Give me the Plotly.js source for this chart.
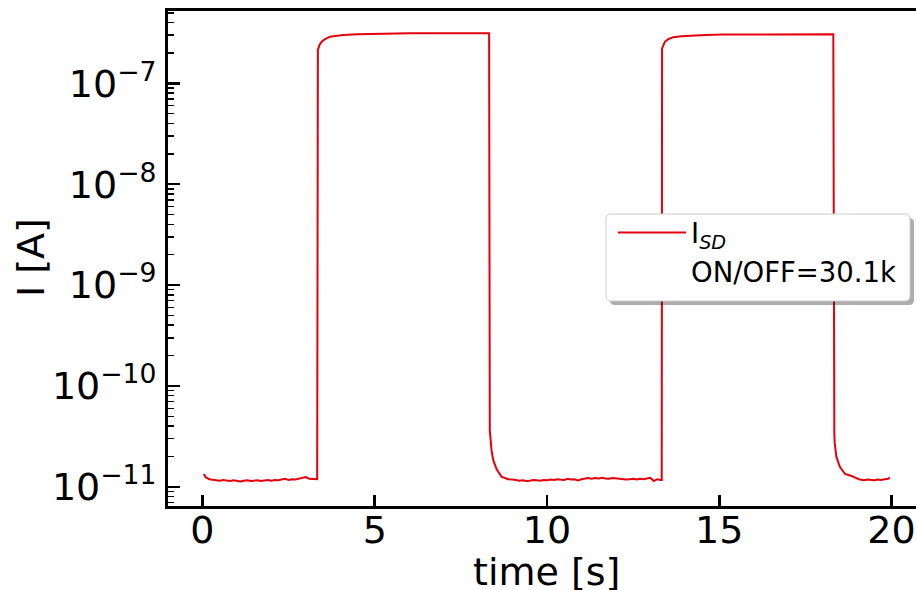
<!DOCTYPE html>
<html>
<head>
<meta charset="utf-8">
<script src="https://cdn.plot.ly/plotly-3.0.1.min.js"></script>
<style>
  html, body { margin: 0; padding: 0; background: #ffffff; }
  #chart { width: 916px; height: 590px; }
</style>
</head>
<body>
<div id="chart"></div>
<script>
// ---- data (time in s, current in A) ----
const timeS = [
  0.04, 0.1, 0.2, 0.3, 0.4, 0.5, 0.6, 0.7, 0.8, 0.9,
  1.0, 1.1, 1.2, 1.3, 1.4, 1.5, 1.6, 1.7, 1.8, 1.9,
  2.0, 2.1, 2.2, 2.3, 2.4, 2.5, 2.6, 2.7, 2.8, 2.9,
  3.0, 3.1, 3.2, 3.3, 3.33,
  3.35, 3.40, 3.46, 3.55, 3.70, 3.90, 4.08, 4.5, 5.24, 6.0, 7.0, 8.0, 8.32,
  8.34, 8.36, 8.39, 8.44, 8.54, 8.68, 8.87,
  9.0, 9.1, 9.2, 9.3, 9.4, 9.5, 9.6, 9.7, 9.8, 9.9,
  10.0, 10.1, 10.2, 10.3, 10.4, 10.5, 10.6, 10.7, 10.8, 10.9,
  11.0, 11.1, 11.2, 11.3, 11.4, 11.5, 11.6, 11.7, 11.8, 11.9,
  12.0, 12.1, 12.2, 12.3, 12.4, 12.5, 12.6, 12.7, 12.8, 12.9,
  13.0, 13.1, 13.2, 13.3, 13.33,
  13.34, 13.38, 13.42, 13.52, 13.66, 13.9, 14.15, 14.6, 15.1, 16.0, 17.0, 18.0, 18.31,
  18.34, 18.35, 18.40, 18.50, 18.65, 18.84, 19.08,
  19.2, 19.3, 19.4, 19.5, 19.6, 19.7, 19.8, 19.9, 19.95
];
const currentA = [
  1.34e-11, 1.24e-11, 1.19e-11, 1.17e-11, 1.16e-11, 1.15e-11, 1.17e-11, 1.15e-11, 1.14e-11, 1.16e-11,
  1.15e-11, 1.13e-11, 1.15e-11, 1.16e-11, 1.14e-11, 1.15e-11, 1.16e-11, 1.14e-11, 1.16e-11, 1.17e-11,
  1.15e-11, 1.17e-11, 1.16e-11, 1.18e-11, 1.20e-11, 1.17e-11, 1.19e-11, 1.18e-11, 1.20e-11, 1.22e-11,
  1.25e-11, 1.20e-11, 1.19e-11, 1.18e-11, 1.19e-11,
  2.14e-7, 2.42e-7, 2.58e-7, 2.73e-7, 2.90e-7, 2.97e-7, 3.01e-7, 3.07e-7, 3.12e-7, 3.13e-7, 3.14e-7, 3.14e-7, 3.13e-7,
  3.65e-11, 2.90e-11, 2.31e-11, 1.84e-11, 1.49e-11, 1.26e-11, 1.19e-11,
  1.18e-11, 1.16e-11, 1.15e-11, 1.16e-11, 1.14e-11, 1.15e-11, 1.17e-11, 1.16e-11, 1.15e-11, 1.17e-11,
  1.16e-11, 1.18e-11, 1.17e-11, 1.19e-11, 1.18e-11, 1.17e-11, 1.20e-11, 1.18e-11, 1.19e-11, 1.16e-11,
  1.19e-11, 1.21e-11, 1.22e-11, 1.20e-11, 1.22e-11, 1.21e-11, 1.23e-11, 1.21e-11, 1.20e-11, 1.22e-11,
  1.21e-11, 1.19e-11, 1.20e-11, 1.18e-11, 1.19e-11, 1.20e-11, 1.18e-11, 1.20e-11, 1.19e-11, 1.21e-11,
  1.23e-11, 1.14e-11, 1.19e-11, 1.17e-11, 1.17e-11,
  2.22e-7, 2.43e-7, 2.58e-7, 2.74e-7, 2.86e-7, 2.93e-7, 2.97e-7, 3.01e-7, 3.04e-7, 3.05e-7, 3.06e-7, 3.06e-7, 3.06e-7,
  3.40e-11, 2.71e-11, 1.98e-11, 1.58e-11, 1.34e-11, 1.28e-11, 1.18e-11,
  1.16e-11, 1.18e-11, 1.17e-11, 1.16e-11, 1.18e-11, 1.17e-11, 1.19e-11, 1.20e-11, 1.24e-11
];
const xTickVals = [0, 5, 10, 15, 20];
const xTickText = ["0", "5", "10", "15", "20"];
const yTickVals = [1e-11, 1e-10, 1e-9, 1e-8, 1e-7];
const yTickText = ["10<sup>−11</sup>", "10<sup>−10</sup>", "10<sup>−9</sup>", "10<sup>−8</sup>", "10<sup>−7</sup>"];
const seriesName = "I<sub><i>SD</i></sub>";
const ratioLabel = "ON/OFF=30.1k";
const xTitle = "time [s]";
const yTitle = "I [A]";

// minor log ticks 2..9 in each decade
const yMinorVals = [];
[1e-12, 1e-11, 1e-10, 1e-9, 1e-8, 1e-7, 1e-6].forEach(function (d) {
  for (let k = 2; k <= 9; k++) yMinorVals.push(k * d);
});

const FONT = "DejaVu Sans, sans-serif";
const RED = "rgb(228,0,12)";

const traces = [
  {
    x: timeS, y: currentA, type: "scatter", mode: "lines",
    name: seriesName, line: { color: RED, width: 2 },
    legendgroup: "a", hoverinfo: "x+y"
  },
  {
    x: [null], y: [null], type: "scatter", mode: "lines",
    name: ratioLabel, line: { color: "rgba(0,0,0,0)", width: 2 },
    legendgroup: "b", showlegend: true, hoverinfo: "skip"
  }
];

// legend frame (rounded box + shadow) in paper coordinates
function roundRect(x0, y0, x1, y1, rx, ry) {
  return "M" + (x0 + rx) + "," + y1 +
    " L" + (x1 - rx) + "," + y1 + " Q" + x1 + "," + y1 + " " + x1 + "," + (y1 - ry) +
    " L" + x1 + "," + (y0 + ry) + " Q" + x1 + "," + y0 + " " + (x1 - rx) + "," + y0 +
    " L" + (x0 + rx) + "," + y0 + " Q" + x0 + "," + y0 + " " + x0 + "," + (y0 + ry) +
    " L" + x0 + "," + (y1 - ry) + " Q" + x0 + "," + y1 + " " + (x0 + rx) + "," + y1 + " Z";
}
const plotW = 916 - 168, plotH = 506 - 11;
const bx0 = (606 - 168) / plotW, bx1 = (910 - 168) / plotW;
const by1 = (506 - 214) / plotH, by0 = (506 - 301) / plotH;
const rx = 5 / plotW, ry = 5 / plotH, sx = 4 / plotW, sy = 4 / plotH;

const layout = {
  width: 916, height: 590,
  margin: { l: 168, r: 0, t: 11, b: 84, pad: 0 },
  paper_bgcolor: "#ffffff", plot_bgcolor: "#ffffff",
  font: { family: FONT, size: 38, color: "#000000" },
  showlegend: true,
  legend: {
    x: (613 - 168) / plotW, y: (506 - 208) / plotH, xanchor: "left", yanchor: "top",
    bgcolor: "rgba(0,0,0,0)", borderwidth: 0,
    font: { family: FONT, size: 27.5, color: "#000000" },
    itemwidth: 68, traceorder: "grouped", tracegroupgap: 0
  },
  xaxis: {
    type: "linear", range: [-1.0, 20.71],
    tickmode: "array", tickvals: xTickVals, ticktext: xTickText,
    ticks: "inside", ticklen: 11, tickwidth: 2.5, tickcolor: "#000000",
    showline: true, linewidth: 3, linecolor: "#000000", mirror: true,
    showgrid: false, zeroline: false,
    tickfont: { family: FONT, size: 38, color: "#000000" },
    ticklabelstandoff: -12
  },
  yaxis: {
    type: "log", range: [-11.19, -6.283],
    tickmode: "array", tickvals: yTickVals, ticktext: yTickText,
    ticks: "inside", ticklen: 12, tickwidth: 2.5, tickcolor: "#000000",
    minor: { tickmode: "array", tickvals: yMinorVals, ticks: "inside", ticklen: 6, tickwidth: 1.5, tickcolor: "#000000", showgrid: false },
    showline: true, linewidth: 3, linecolor: "#000000", mirror: false,
    showgrid: false, zeroline: false,
    tickfont: { family: FONT, size: 38, color: "#000000" },
    ticklabelstandoff: 1
  },
  annotations: [
    { text: xTitle, xref: "paper", yref: "paper",
      x: (546 - 168) / plotW, y: (506 - 572) / plotH, xanchor: "center", yanchor: "middle",
      showarrow: false, font: { family: FONT, size: 38, color: "#000000" } },
    { text: yTitle, xref: "paper", yref: "paper", textangle: -90,
      x: (31 - 168) / plotW, y: (506 - 258) / plotH, xanchor: "center", yanchor: "middle",
      showarrow: false, font: { family: FONT, size: 38, color: "#000000" } }
  ],
  shapes: [
    { type: "path", xref: "paper", yref: "paper", layer: "above",
      path: roundRect(bx0 + sx, by0 - sy, bx1 + sx, by1 - sy, rx, ry),
      fillcolor: "rgba(0,0,0,0.32)", line: { width: 0 } },
    { type: "path", xref: "paper", yref: "paper", layer: "above",
      path: roundRect(bx0, by0, bx1, by1, rx, ry),
      fillcolor: "#ffffff", line: { color: "#cccccc", width: 1 } }
  ]
};

Plotly.newPlot("chart", traces, layout, { displayModeBar: false, staticPlot: true });
</script>
</body>
</html>
